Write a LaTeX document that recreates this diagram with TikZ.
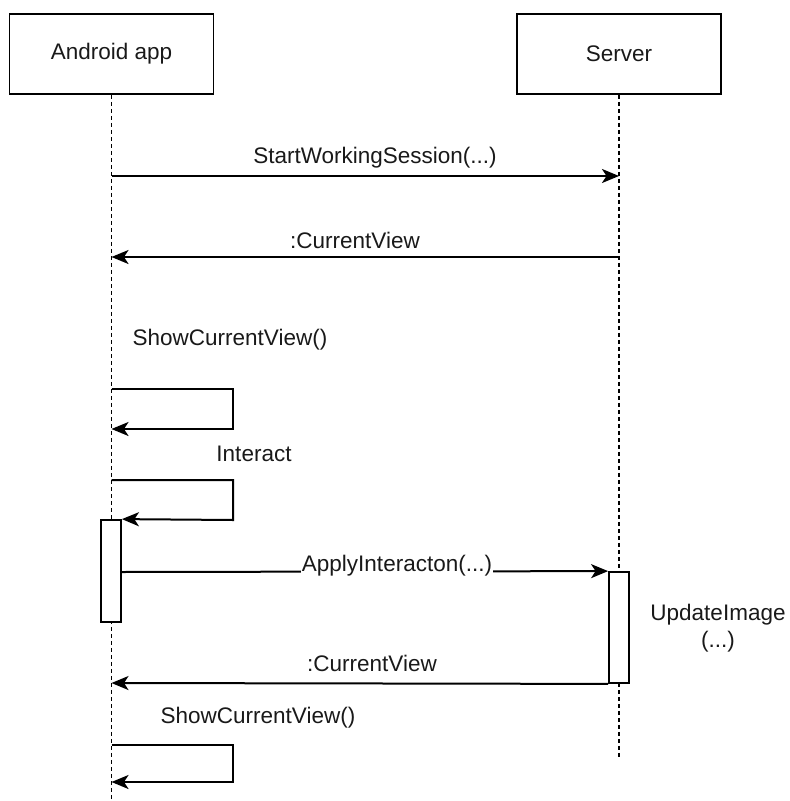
\documentclass[tikz,border=0pt]{standalone}
\usepackage{fontspec}
\setmainfont{Liberation Sans}
\usetikzlibrary{arrows.meta}
\begin{document}
\begin{tikzpicture}[x=1bp,y=-1bp,
  every node/.style={font=\fontsize{22.5bp}{27bp}\selectfont, text=black!90},
  actor/.style={draw, line width=1.8bp, minimum width=204bp, minimum height=80bp, inner sep=0pt},
  life/.style={line width=1.5bp, dash pattern=on 4bp off 3bp},
  msg/.style={line width=2bp, -{Stealth[length=17bp,width=14bp,inset=4.5bp]}},
  act/.style={draw, fill=white, line width=1.8bp, minimum width=20bp, inner sep=0pt},
  lbl/.style={inner sep=1bp}
]
\useasboundingbox (0,0) rectangle (790,801);
% actors
\node[actor] (app) at (111.5,54) {Android app};
\node[actor] (srv) at (619,54) {Server};
% lifelines
\coordinate (appEnd) at (111.5,801);
\coordinate (srvEnd) at (619,758);
\draw[life] (app.south) -- (appEnd);
\draw[life] (srv.south) -- (srvEnd);
% activation boxes
\node[act, minimum height=102bp] (aact) at (111,571) {};
\node[act, minimum height=111bp] (sact) at (619,627.5) {};
% message 1
\coordinate (m1a) at (111.5,176);
\coordinate (m1b) at (619,176);
\draw[msg] (m1a) -- (m1b);
\node[lbl] (l1) at (375,158) {StartWorkingSession(...)};
% message 2
\coordinate (m2a) at (619,257);
\coordinate (m2b) at (111.5,257);
\draw[msg] (m2a) -- (m2b);
\node[lbl] (l2) at (355,240) {:CurrentView};
% self call 1
\node[lbl] (l3) at (230,340) {ShowCurrentView()};
\coordinate (s1a) at (111.5,389);
\coordinate (s1b) at (233,389);
\coordinate (s1c) at (233,429);
\coordinate (s1d) at (111.5,429);
\draw[msg] (s1a) -- (s1b) -- (s1c) -- (s1d);
% self call 2
\node[lbl] (l4) at (254,454) {Interact};
\coordinate (s2a) at (111.5,480);
\coordinate (s2b) at (233,480);
\coordinate (s2c) at (233,520);
\draw[msg] (s2a) -- (s2b) -- (s2c) -- (aact.north east);
% apply interaction
\coordinate (m3a) at (aact.east |- 0,572);
\coordinate (m3b) at (sact.north west);
\draw[msg] (m3a) -- (m3b);
\node[fill=white, inner sep=1bp, anchor=base] (l5) at (397,571) {ApplyInteracton(...)};
% update image
\node[lbl, align=center] (l6) at (718,628) {UpdateImage\\(...)};
% return
\coordinate (m4b) at (111.5,683);
\draw[msg] (sact.south west) -- (m4b);
\node[lbl] (l7) at (372,663) {:CurrentView};
% self call 3
\node[lbl] (l8) at (258,718) {ShowCurrentView()};
\coordinate (s3a) at (111.5,745);
\coordinate (s3b) at (233,745);
\coordinate (s3c) at (233,782);
\coordinate (s3d) at (111.5,782);
\draw[msg] (s3a) -- (s3b) -- (s3c) -- (s3d);
\end{tikzpicture}
\end{document}
